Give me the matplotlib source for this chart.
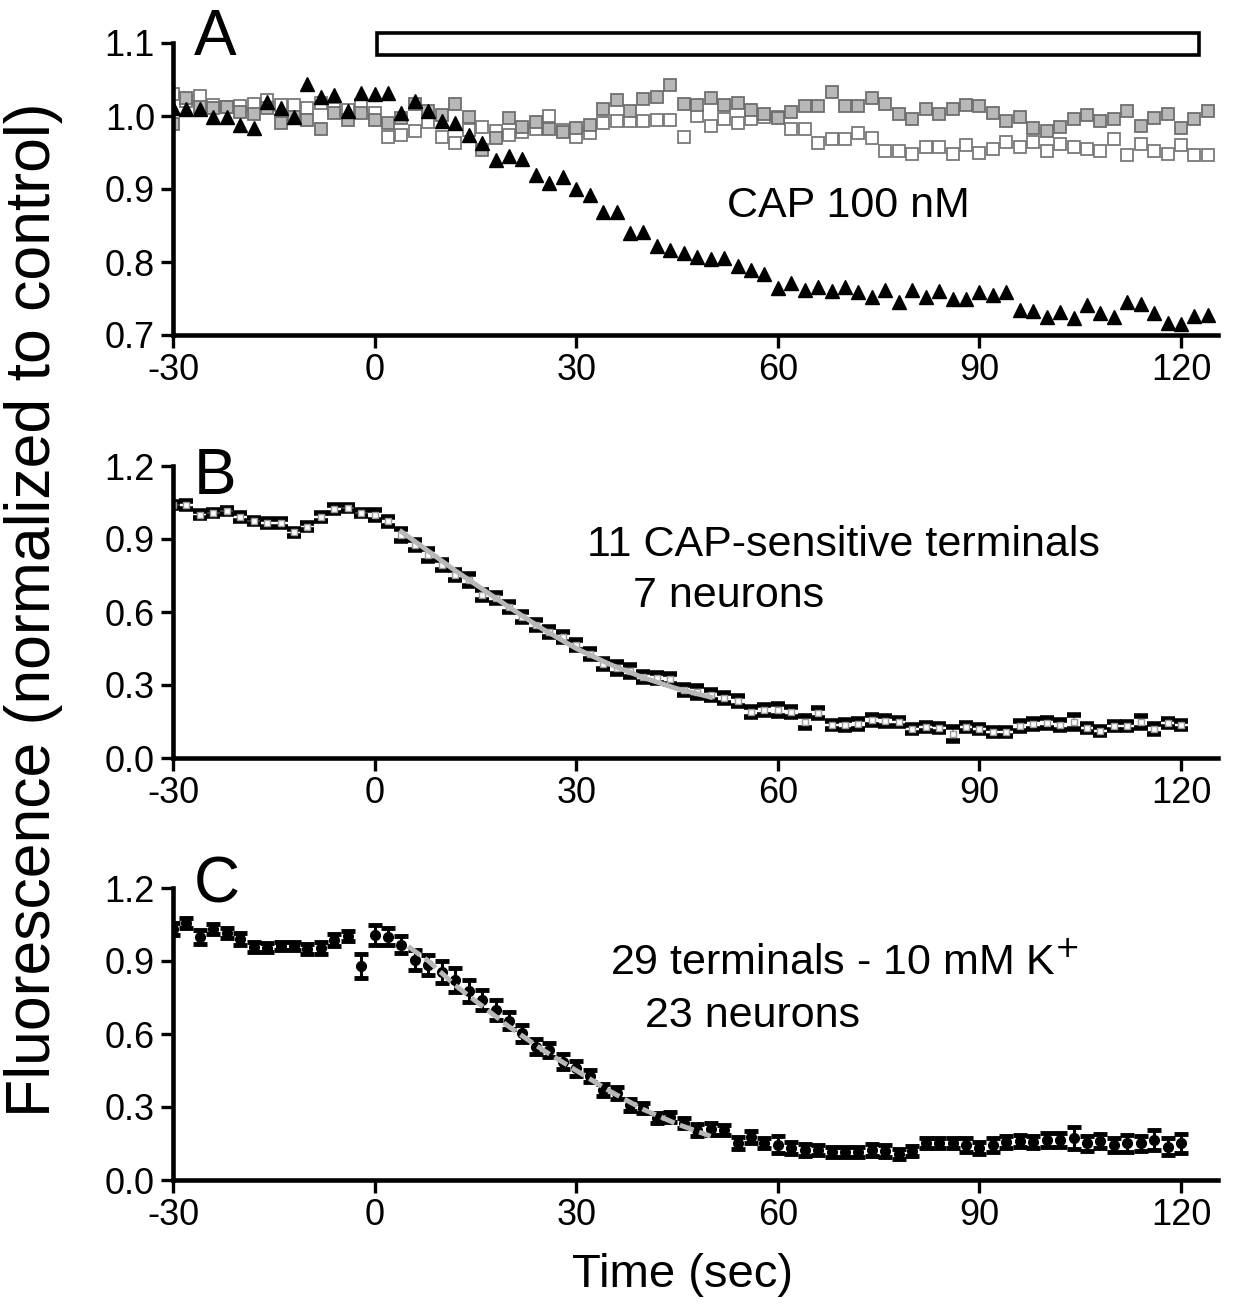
import numpy as np
import matplotlib
matplotlib.use("Agg")
import matplotlib.pyplot as plt
from matplotlib.patches import Rectangle

plt.rcParams["font.family"] = ["Liberation Sans", "DejaVu Sans"]
plt.rcParams["axes.unicode_minus"] = False

# ---- panel A: single terminal, CAP 100 nM ----
t_a = np.arange(-30, 126, 2)
cap_tri = [1.011, 1.010, 1.010, 0.999, 0.999, 0.988, 0.984, 1.019, 1.011, 0.999, 1.044, 1.026, 1.029,
           1.007, 1.032, 1.030, 1.032, 1.004, 1.021, 1.007, 0.993, 0.990, 0.974, 0.963, 0.940, 0.945,
           0.941, 0.919, 0.908, 0.916, 0.900, 0.892, 0.869, 0.869, 0.840, 0.841, 0.822, 0.817, 0.812,
           0.807, 0.804, 0.805, 0.795, 0.789, 0.784, 0.764, 0.771, 0.762, 0.766, 0.760, 0.766,
           0.759, 0.752, 0.762, 0.745, 0.762, 0.752, 0.760, 0.749, 0.749, 0.759, 0.755, 0.759, 0.734,
           0.733, 0.725, 0.732, 0.723, 0.741, 0.730, 0.725, 0.745, 0.743, 0.730, 0.716, 0.715, 0.726, 0.727]
ctrl_gray = [0.989, 1.024, 1.012, 1.011, 1.012, 1.006, 1.003, 1.011, 0.990, 0.999, 0.995, 0.982, 1.004,
             0.995, 1.004, 0.994, 0.990, 0.997, 1.016, 1.007, 1.001, 1.016, 0.999, 0.953, 0.970, 0.997,
             0.985, 0.992, 0.982, 0.978, 0.983, 0.987, 1.009, 1.022, 1.007, 1.023, 1.026, 1.042, 1.016,
             1.015, 1.024, 1.015, 1.018, 1.008, 1.003, 0.997, 1.005, 1.014, 1.014, 1.033, 1.014, 1.014,
             1.025, 1.016, 1.003, 0.996, 1.009, 1.003, 1.009, 1.015, 1.014, 1.004, 0.993, 0.999, 0.983,
             0.980, 0.985, 0.996, 1.001, 0.993, 0.996, 1.007, 0.986, 0.997, 1.003, 0.983, 0.996, 1.007]
ctrl_open = [1.030, 1.020, 1.027, 1.015, 1.013, 1.014, 1.016, 1.022, 1.015, 1.015, 1.011, 1.018, 1.010,
             1.008, 1.015, 1.004, 0.971, 0.974, 0.980, 0.992, 0.971, 0.963, 0.981, 0.985, 0.980, 0.974,
             0.978, 0.982, 1.000, 0.981, 0.971, 0.977, 0.990, 0.993, 0.993, 0.993, 0.995, 0.995, 0.971,
             1.000, 0.986, 0.996, 0.990, 0.996, 0.999, 0.998, 0.982, 0.982, 0.963, 0.968, 0.968, 0.977,
             0.970, 0.952, 0.952, 0.948, 0.958, 0.958, 0.948, 0.960, 0.949, 0.955, 0.964, 0.958, 0.964,
             0.952, 0.961, 0.958, 0.955, 0.952, 0.968, 0.947, 0.962, 0.952, 0.948, 0.960, 0.946, 0.946]

# ---- panel B: 11 CAP-sensitive terminals ----
t_bc = np.arange(-30, 121, 2)
b_mean = [1.04, 1.04, 1.00, 1.007, 1.015, 0.99, 0.975, 0.966, 0.966, 0.928, 0.95, 0.99, 1.023, 1.027,
          1.007, 1.00, 0.972,
          0.917, 0.876, 0.835, 0.794, 0.753, 0.732, 0.671, 0.658, 0.62, 0.58, 0.547, 0.518, 0.497, 0.464,
          0.427, 0.385, 0.37, 0.358, 0.333, 0.329, 0.325, 0.28, 0.271, 0.259, 0.247, 0.234, 0.189, 0.197,
          0.197, 0.189, 0.148, 0.185, 0.136, 0.136,
          0.14, 0.156, 0.152, 0.148, 0.119, 0.127, 0.123, 0.099, 0.127, 0.119, 0.107, 0.107, 0.131, 0.14,
          0.144, 0.136, 0.148, 0.123, 0.111, 0.131, 0.131, 0.148, 0.119, 0.144, 0.136]
b_err = [0.012, 0.015, 0.015, 0.012, 0.012, 0.015, 0.013, 0.015, 0.015, 0.015, 0.015, 0.015, 0.015,
         0.012, 0.012, 0.02, 0.02,
         0.025, 0.02, 0.025, 0.02, 0.02, 0.025, 0.02, 0.02, 0.02, 0.022, 0.02, 0.02, 0.02, 0.02,
         0.02, 0.02, 0.025, 0.025, 0.02, 0.02, 0.02, 0.02, 0.025, 0.02, 0.02, 0.02, 0.02, 0.02, 0.025,
         0.02, 0.025, 0.02, 0.015, 0.02,
         0.02, 0.02, 0.02, 0.015, 0.015, 0.015, 0.015, 0.03, 0.015, 0.015, 0.015, 0.015, 0.02, 0.02,
         0.02, 0.02, 0.03, 0.015, 0.015, 0.015, 0.015, 0.025, 0.02, 0.015, 0.015]
b_fit_t = [4, 8, 12, 16, 20, 25, 30, 35, 40, 45, 50]
b_fit = [0.93, 0.85, 0.77, 0.695, 0.62, 0.53, 0.45, 0.385, 0.33, 0.285, 0.25]

# ---- panel C: 29 terminals, 10 mM K+ ----
c_mean = [1.03, 1.056, 0.999, 1.032, 1.015, 0.99, 0.958, 0.955, 0.962, 0.962, 0.948, 0.953, 0.986,
          1.003, 0.88, 1.007, 0.999,
          0.966, 0.904, 0.884, 0.856, 0.822, 0.775, 0.74, 0.699, 0.655, 0.604, 0.548, 0.534, 0.486, 0.459,
          0.427, 0.37, 0.357, 0.308, 0.296, 0.255, 0.26, 0.233, 0.205, 0.208, 0.205, 0.152, 0.178, 0.151,
          0.144, 0.131, 0.123, 0.123, 0.116, 0.116,
          0.116, 0.123, 0.12, 0.107, 0.12, 0.151, 0.151, 0.151, 0.144, 0.131, 0.144, 0.156, 0.16, 0.156,
          0.164, 0.164, 0.172, 0.151, 0.16, 0.144, 0.151, 0.151, 0.164, 0.136, 0.151]
c_err = [0.025, 0.02, 0.03, 0.02, 0.02, 0.025, 0.02, 0.02, 0.015, 0.015, 0.02, 0.025, 0.025, 0.02,
         0.05, 0.04, 0.035,
         0.035, 0.04, 0.04, 0.045, 0.05, 0.045, 0.04, 0.04, 0.035, 0.035, 0.03, 0.03, 0.03, 0.03,
         0.025, 0.025, 0.025, 0.025, 0.02, 0.02, 0.02, 0.02, 0.025, 0.025, 0.02, 0.025, 0.025, 0.02,
         0.035, 0.025, 0.025, 0.02, 0.02, 0.02,
         0.02, 0.025, 0.025, 0.02, 0.02, 0.02, 0.02, 0.02, 0.03, 0.025, 0.03, 0.025, 0.025, 0.025,
         0.03, 0.03, 0.045, 0.03, 0.03, 0.03, 0.035, 0.03, 0.04, 0.035, 0.04]
c_fit_t = [5, 8, 12, 16, 20, 25, 30, 35, 40, 45, 50]
c_fit = [0.96, 0.90, 0.80, 0.715, 0.63, 0.535, 0.45, 0.365, 0.29, 0.23, 0.18]

SPINE = 3.3
fig = plt.figure(figsize=(12.35, 13.06), dpi=100)
ax_w = 1045 / 1235
ax_h = 292 / 1306
axA = fig.add_axes([173 / 1235, 1 - 335 / 1306, ax_w, ax_h])
axB = fig.add_axes([173 / 1235, 1 - 758 / 1306, ax_w, ax_h])
axC = fig.add_axes([173 / 1235, 1 - 1180 / 1306, ax_w, ax_h])

for ax in (axA, axB, axC):
    ax.spines["top"].set_visible(False)
    ax.spines["right"].set_visible(False)
    for s in ("left", "bottom"):
        ax.spines[s].set_linewidth(SPINE)
    ax.tick_params(direction="out", length=9, width=2.4, labelsize=26, pad=4)
    ax.set_xlim(-30, 125.5)
    ax.set_xticks([-30, 0, 30, 60, 90, 120])

# A
axA.plot(t_a, ctrl_open, "s", ms=8.5, mfc="white", mec="#7a7a7a", mew=1.3)
axA.plot(t_a, ctrl_gray, "s", ms=8.5, mfc="#b8b8b8", mec="#6e6e6e", mew=1.3)
axA.plot(t_a, cap_tri, "^", ms=10.5, color="black")
axA.set_ylim(0.7, 1.1)
axA.set_yticks([0.7, 0.8, 0.9, 1.0, 1.1])
axA.add_patch(Rectangle((0.3, 1.084), 122.4, 0.03, fill=False, ec="black", lw=2.6, clip_on=False))
axA.text(52.4, 0.862, "CAP 100 nM", fontsize=31)
axA.text(0.02, 0.96, "A", transform=axA.transAxes, fontsize=46)

# B
line, caps, bars = axB.errorbar(t_bc, b_mean, yerr=b_err, fmt="s", ms=5, mfc="white", mec="#9a9a9a",
                                ecolor="#9a9a9a", elinewidth=1.2, capsize=5, capthick=4)
for c in caps:
    c.set_markeredgecolor("black")
axB.plot(b_fit_t, b_fit, "-", color="#b8b8b8", lw=3.5, zorder=4)
axB.set_ylim(0, 1.2)
axB.set_yticks([0.0, 0.3, 0.6, 0.9, 1.2])
axB.text(31.6, 0.83, "11 CAP-sensitive terminals", fontsize=31)
axB.text(38.5, 0.62, "7 neurons", fontsize=31)
axB.text(0.02, 0.905, "B", transform=axB.transAxes, fontsize=46)

# C
axC.errorbar(t_bc, c_mean, yerr=c_err, fmt="o", ms=7, color="black", ecolor="black",
             elinewidth=2.2, capsize=5, capthick=3.5)
axC.plot(c_fit_t, c_fit, "--", color="#b8b8b8", lw=3.5, dashes=(3, 1.2), zorder=4)
axC.set_ylim(0, 1.2)
axC.set_yticks([0.0, 0.3, 0.6, 0.9, 1.2])
axC.text(35.0, 0.843, "29 terminals - 10 mM K$^{+}$", fontsize=31)
axC.text(40.2, 0.63, "23 neurons", fontsize=31)
axC.text(0.02, 0.95, "C", transform=axC.transAxes, fontsize=46)

fig.text(0.027, 0.533, "Fluorescence (normalized to control)", rotation=90, fontsize=45,
         ha="center", va="center")
fig.text(0.553, 0.024, "Time (sec)", fontsize=34, ha="center", va="center")

fig.savefig("out.png", dpi=100)
